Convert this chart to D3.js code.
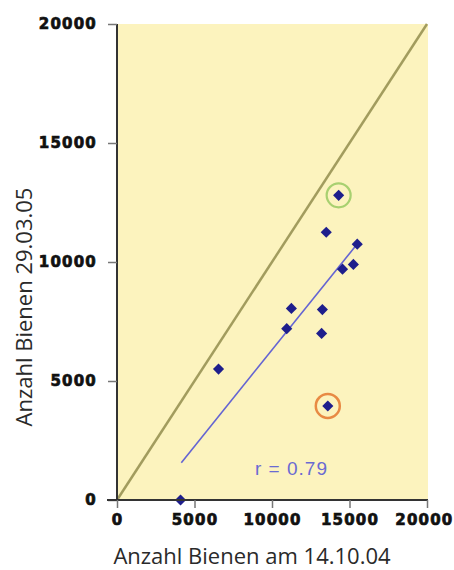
<!DOCTYPE html>
<html>
<head>
<meta charset="utf-8">
<script src="https://cdn.jsdelivr.net/npm/d3@7"></script>
<style>
  html, body { margin: 0; padding: 0; background: #ffffff; }
  svg { display: block; }
</style>
</head>
<body>
<div id="chart"></div>
<script>
// ---- data ----
const beesOct = [14300, 13500, 15500, 15250, 14550, 11250, 13250, 10950, 13200, 6550, 13600, 4100];
const beesMar = [12800, 11250, 10750, 9900, 9700, 8050, 8000, 7200, 7000, 5500, 3950, 0];
const highlightGreen = [0];
const highlightOrange = [10];
const trendX = [4150, 15550];
const trendY = [1570, 10800];
const identityLine = [0, 20000];
const tickValues = [0, 5000, 10000, 15000, 20000];
const rLabel = "r = 0.79";
const xTitle = "Anzahl Bienen am 14.10.04";
const yTitle = "Anzahl Bienen 29.03.05";

const W = 454, H = 570;
const svg = d3.select("#chart").append("svg").attr("width", W).attr("height", H);

const x = d3.scaleLinear().domain([0, 20000]).range([117, 427]);
const y = d3.scaleLinear().domain([0, 20000]).range([500, 24]);

// plot background
svg.append("rect")
  .attr("x", x(0)).attr("y", y(20000))
  .attr("width", x(20000) - x(0) + 1).attr("height", y(0) - y(20000))
  .attr("fill", "#fcf3be");

// identity line
svg.append("line")
  .attr("x1", x(identityLine[0])).attr("y1", y(identityLine[0]))
  .attr("x2", x(identityLine[1])).attr("y2", y(identityLine[1]))
  .attr("stroke", "#a29c5e").attr("stroke-width", 2.5);

// regression line
svg.append("line")
  .attr("x1", x(trendX[0])).attr("y1", y(trendY[0]))
  .attr("x2", x(trendX[1])).attr("y2", y(trendY[1]))
  .attr("stroke", "#6464d2").attr("stroke-width", 1.6);

// highlight circles
svg.selectAll("circle.g").data(highlightGreen).enter().append("circle")
  .attr("cx", i => x(beesOct[i])).attr("cy", i => y(beesMar[i]))
  .attr("r", 12).attr("fill", "none").attr("stroke", "#a8d070").attr("stroke-width", 2.2);
svg.selectAll("circle.o").data(highlightOrange).enter().append("circle")
  .attr("cx", i => x(beesOct[i])).attr("cy", i => y(beesMar[i]))
  .attr("r", 12).attr("fill", "none").attr("stroke", "#e88a44").attr("stroke-width", 2.5);

// points (square rotated 45° = compact diamond)
const sym = d3.symbol().type(d3.symbolSquare).size(62);
svg.selectAll("path.pt").data(beesOct).enter().append("path")
  .attr("transform", (d, i) => `translate(${x(d)},${y(beesMar[i])}) rotate(45)`)
  .attr("d", sym)
  .attr("fill", "#1e1e8c");

// r label
svg.append("text")
  .attr("x", 255).attr("y", 475)
  .attr("font-family", "Liberation Sans, Arial, sans-serif")
  .attr("font-size", 19).attr("letter-spacing", 1)
  .attr("fill", "#6a6ad2")
  .text(rLabel);

// axes
const tickFont = "DejaVu Sans, sans-serif";
const yAxis = svg.append("g").attr("transform", `translate(${x(0)},0)`)
  .call(d3.axisLeft(y).tickValues(tickValues).tickSize(9).tickPadding(11).tickFormat(d3.format("d")));
const xAxis = svg.append("g").attr("transform", `translate(0,${y(0)})`)
  .call(d3.axisBottom(x).tickValues(tickValues).tickSize(8).tickPadding(6).tickFormat(d3.format("d")));

[yAxis, xAxis].forEach(a => {
  a.select(".domain").attr("stroke", "#333").attr("stroke-width", 2);
  a.selectAll(".tick line").attr("stroke", "#777").attr("stroke-width", 1.5);
  a.selectAll(".tick text")
    .attr("font-family", tickFont).attr("font-weight", "bold")
    .attr("font-size", 15).attr("letter-spacing", 1.2)
    .attr("fill", "#111").attr("stroke", "#111").attr("stroke-width", 0.7);
});
// keep the last x label inside the page
xAxis.selectAll(".tick text").filter(d => d === 20000)
  .attr("text-anchor", "end").attr("x", W - 1 - x(20000));
yAxis.select(".domain").attr("d", `M0,${y(20000)}V${y(0)}`);
xAxis.select(".domain").attr("d", `M${x(0) - 10},0H${x(20000) + 1}`);

// axis titles
svg.append("text")
  .attr("x", 252).attr("y", 564)
  .attr("text-anchor", "middle")
  .attr("font-family", "Open Sans, sans-serif")
  .attr("font-size", 22).attr("fill", "#2a2a2a")
  .text(xTitle);
svg.append("text")
  .attr("transform", "translate(32,307) rotate(-90)")
  .attr("text-anchor", "middle")
  .attr("font-family", "Open Sans, sans-serif")
  .attr("font-size", 22).attr("fill", "#2a2a2a")
  .text(yTitle);
</script>
</body>
</html>
